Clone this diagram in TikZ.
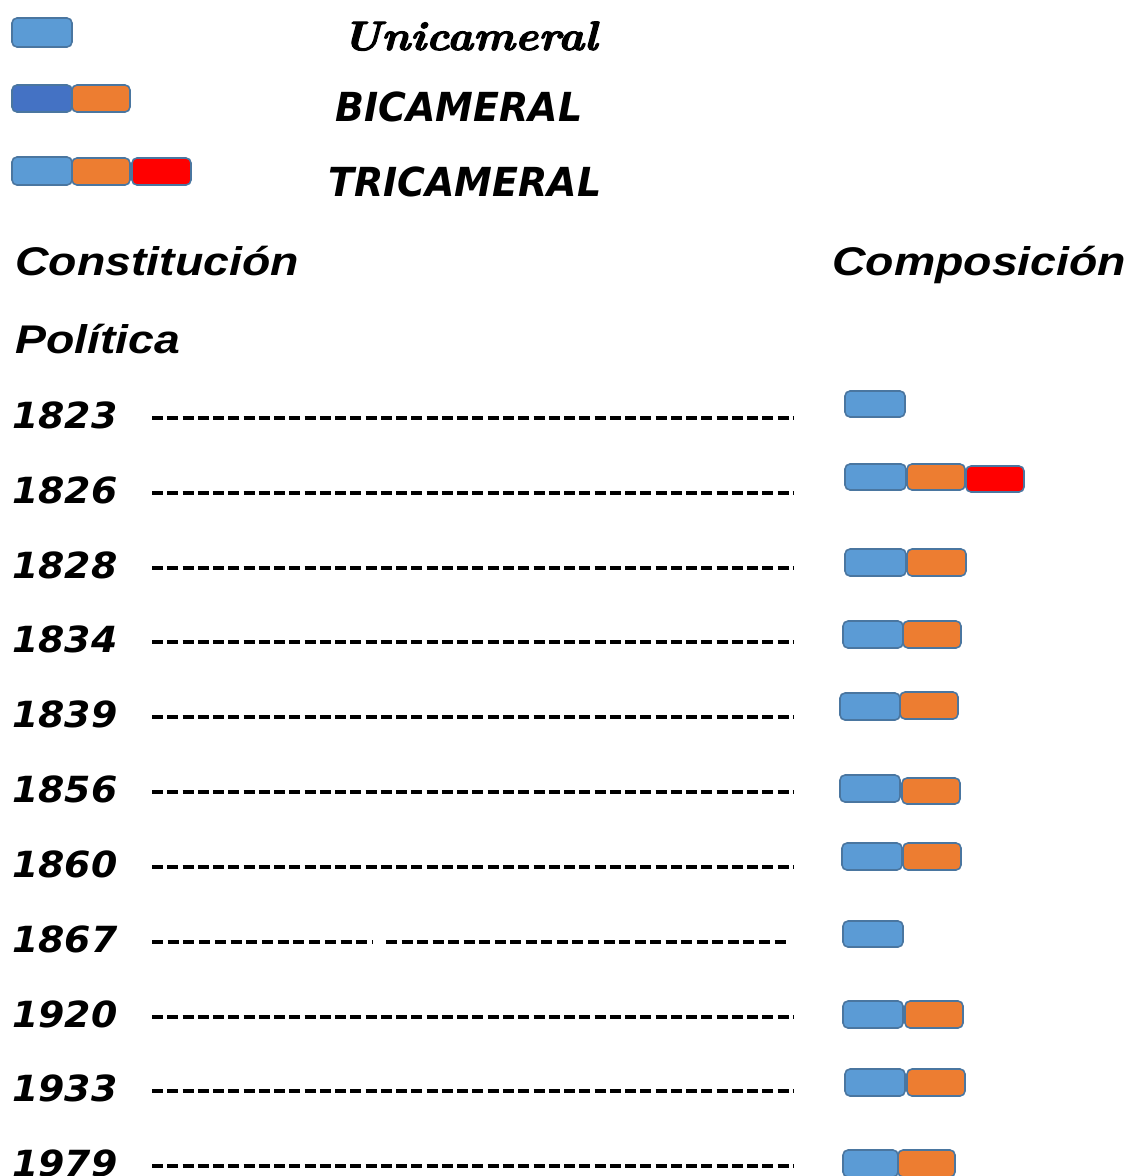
\documentclass[tikz,border=0pt]{standalone}
\usepackage{fontspec}
\newfontfamily\arialf{Liberation Sans}
\newfontfamily\verdf{DejaVu Sans}
\newfontfamily\lmbi{lmroman10-bolditalic.otf}[FakeBold=2.5]
\definecolor{ltblue}{HTML}{5B9BD5}
\definecolor{dkblue}{HTML}{4472C4}
\definecolor{orng}{HTML}{ED7D31}
\definecolor{redc}{HTML}{FF0000}
\definecolor{edgec}{HTML}{4A76A0}
\tikzset{
  chamber/.style={draw=edgec, line width=1.6pt, rounded corners=5pt, inner sep=0pt, outer sep=0pt},
  yearlbl/.style={anchor=base west, inner sep=0pt, xscale=1.05, transform shape, font=\verdf\bfseries\itshape\fontsize{36}{40}\selectfont},
  headlbl/.style={anchor=base west, inner sep=0pt, xscale=1.16, transform shape, font=\arialf\bfseries\itshape\fontsize{40}{48}\selectfont},
  legtxt/.style={anchor=base west, inner sep=0pt, xscale=0.95, transform shape, font=\verdf\bfseries\itshape\fontsize{40}{48}\selectfont},
  dashline/.style={line width=4pt, dash pattern=on 11pt off 4.26pt},
}
\newcommand\chbox[6]{\node[chamber,fill=#2,minimum width={#4-#3},minimum height={#6-#5}] (#1) at ({(#3+#4)/2},{(#5+#6)/2}) {};}
\begin{document}
\begin{tikzpicture}[x=1pt,y=-1pt]
\useasboundingbox (0,0) rectangle (1132,1176);
% legend
\chbox{lu}{ltblue}{12}{72}{18}{47}
\node[anchor=base west, inner sep=0pt, xscale=1.08, transform shape, font=\lmbi\fontsize{41}{48}\selectfont] (tuni) at (342,50) {Unicameral};
\chbox{lb1}{dkblue}{12}{72}{85}{112}
\chbox{lb2}{orng}{72}{130}{85}{112}
\node[legtxt] (tbi) at (335,121) {BICAMERAL};
\chbox{lt1}{ltblue}{12}{72}{157}{185}
\chbox{lt2}{orng}{72}{130}{158}{185}
\chbox{lt3}{redc}{132}{191}{158}{185}
\node[legtxt] (ttri) at (328,196) {TRICAMERAL};
% headers
\node[headlbl] (hc) at (15,275) {Constitución};
\node[headlbl] (hp) at (15,353) {Política};
\node[headlbl] (hcomp) at (832,275) {Composición};
% rows
\foreach \yr/\b [count=\i] in {1823/428,1826/503,1828/578,1834/652,1839/727,1856/802,1860/877,1867/952,1920/1027,1933/1101,1979/1176}{
  \node[yearlbl] (y\i) at (12,\b) {\yr};
}
\foreach \b [count=\i] in {428,503,578,652,727,802,877,1027,1101,1176}{
  \coordinate (ds\i) at (152,\b-10);
  \coordinate (de\i) at (793,\b-10);
  \draw[dashline] (ds\i) -- (de\i);
}
\coordinate (dsa) at (152,942);
\coordinate (dea) at (372,942);
\coordinate (dsb) at (386,942);
\coordinate (deb) at (790,942);
\draw[dashline, dash pattern=on 11pt off 4.71pt] (dsa) -- (dea);
\draw[dashline, dash pattern=on 11pt off 4.54pt] (dsb) -- (deb);
% composition boxes
\chbox{a1}{ltblue}{845}{905}{391}{417}
\chbox{b1}{ltblue}{845}{906}{464}{490}
\chbox{b2}{orng}{907}{965}{464}{490}
\chbox{b3}{redc}{966}{1024}{466}{492}
\chbox{c1}{ltblue}{845}{906}{549}{576}
\chbox{c2}{orng}{907}{966}{549}{576}
\chbox{d1}{ltblue}{843}{903}{621}{648}
\chbox{d2}{orng}{903}{961}{621}{648}
\chbox{e1}{ltblue}{840}{900}{693}{720}
\chbox{e2}{orng}{900}{958}{692}{719}
\chbox{f1}{ltblue}{840}{900}{775}{802}
\chbox{f2}{orng}{902}{960}{778}{804}
\chbox{g1}{ltblue}{842}{902}{843}{870}
\chbox{g2}{orng}{903}{961}{843}{870}
\chbox{h1}{ltblue}{843}{903}{921}{947}
\chbox{i1}{ltblue}{843}{903}{1001}{1028}
\chbox{i2}{orng}{905}{963}{1001}{1028}
\chbox{j1}{ltblue}{845}{905}{1069}{1096}
\chbox{j2}{orng}{907}{965}{1069}{1096}
\chbox{k1}{ltblue}{843}{898}{1150}{1177}
\chbox{k2}{orng}{898}{955}{1150}{1177}
\end{tikzpicture}
\end{document}
